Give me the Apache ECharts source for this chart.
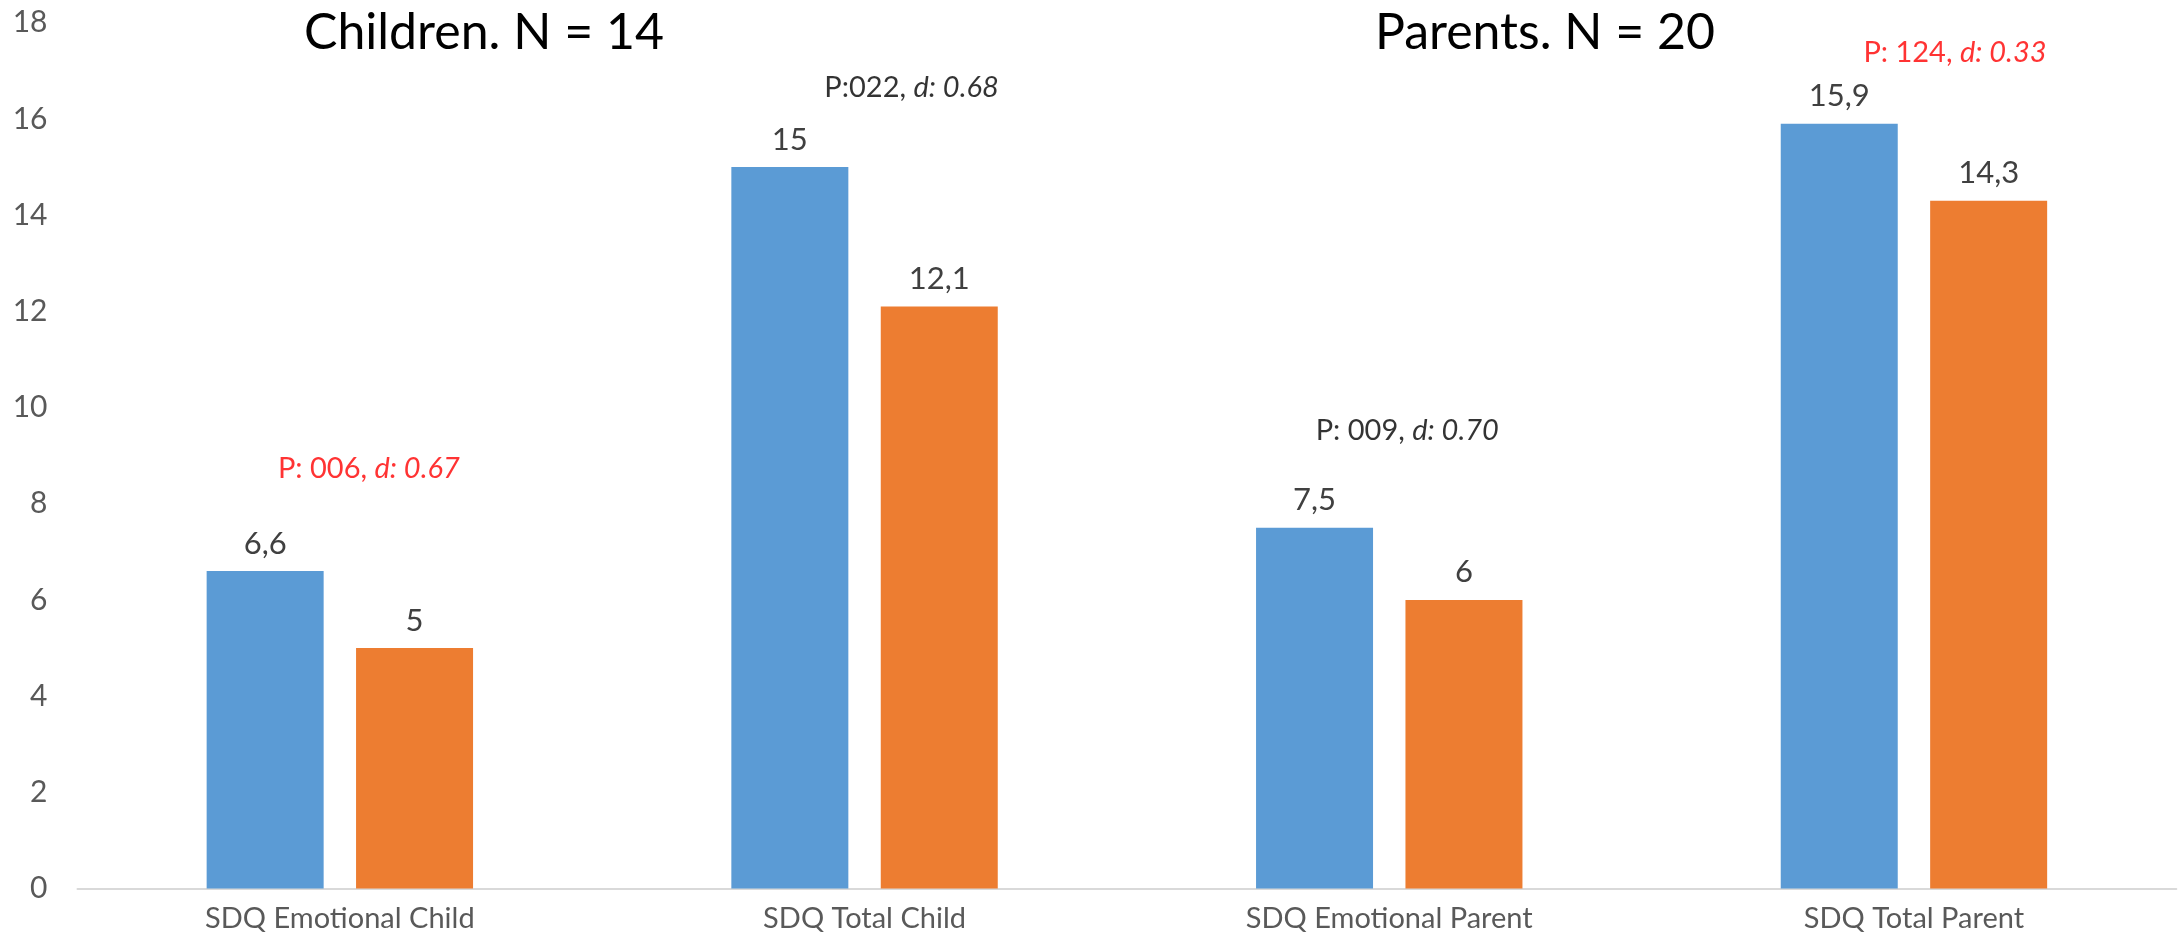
<!DOCTYPE html>
<html>
<head>
<meta charset="utf-8">
<script src="https://cdn.jsdelivr.net/npm/echarts@6/dist/echarts.min.js"></script>
<style>
  html, body { margin: 0; padding: 0; background: #fff; }
  #chart { width: 2178px; height: 946px; }
</style>
</head>
<body>
<div id="chart"></div>
<script>
// SDQ scores, two measurement points per scale
const categories = ['SDQ Emotional Child', 'SDQ Total Child', 'SDQ Emotional Parent', 'SDQ Total Parent'];
const firstValues = [6.6, 15, 7.5, 15.9];
const secondValues = [5, 12.1, 6, 14.3];
const yTicks = [0, 2, 4, 6, 8, 10, 12, 14, 16, 18];

// Significance notes above each pair: p value, effect size, height on the y scale
const notePValues = ['P: 006, ', 'P:022, ', 'P: 009, ', 'P: 124, '];
const noteEffects = ['d: 0.67', 'd: 0.68', 'd: 0.70', 'd: 0.33'];
const noteHeights = [8.72, 16.66, 9.51, 17.37];
const noteColors = ['#FF0000', '#000000', '#000000', '#FF0000'];
const noteShift = [29, 47, 18, 41];

const groupTitles = ['Children. N = 14', 'Parents. N = 20'];

const FONT = 'Lato, "Open Sans", sans-serif';
const comma = v => String(v).replace('.', ',');

const chart = echarts.init(document.getElementById('chart'), null, { renderer: 'canvas' });

const noteData = categories.map((c, i) => ({
  value: [c, noteHeights[i]],
  label: {
    offset: [noteShift[i], 0],
    formatter: '{p|' + notePValues[i] + '}{d|' + noteEffects[i] + '}',
    rich: {
      p: { color: noteColors[i], fontSize: 29, fontFamily: FONT },
      d: { color: noteColors[i], fontSize: 29, fontFamily: FONT, fontStyle: 'italic' }
    }
  }
}));

chart.setOption({
  backgroundColor: '#ffffff',
  animation: false,
  grid: { left: 77.5, right: 1.7, top: 22.7, bottom: 57.5, containLabel: false, outerBoundsMode: 'none' },
  graphic: [
    { type: 'text', x: 484, y: 33, style: { text: groupTitles[0], font: '50px ' + FONT, fill: '#000', align: 'center', verticalAlign: 'middle' } },
    { type: 'text', x: 1545, y: 33, style: { text: groupTitles[1], font: '50px ' + FONT, fill: '#000', align: 'center', verticalAlign: 'middle' } }
  ],
  xAxis: {
    type: 'category',
    data: categories,
    axisLine: { show: true, lineStyle: { color: '#D9D9D9', width: 2 } },
    axisTick: { show: false },
    axisLabel: { color: '#595959', fontSize: 29, fontFamily: FONT, margin: 16, interval: 0 },
    splitLine: { show: false }
  },
  yAxis: {
    type: 'value',
    min: yTicks[0],
    max: yTicks[yTicks.length - 1],
    interval: yTicks[1] - yTicks[0],
    axisLine: { show: false },
    axisTick: { show: false },
    splitLine: { show: false },
    axisLabel: { color: '#595959', fontSize: 30, fontFamily: FONT, margin: 30 }
  },
  series: [
    {
      type: 'bar',
      data: firstValues,
      barWidth: 117,
      barGap: '27.7%',
      itemStyle: { color: '#5B9BD5' },
      label: { show: true, position: 'top', distance: 12, color: '#404040', fontSize: 31, fontFamily: FONT, formatter: p => comma(p.value) }
    },
    {
      type: 'bar',
      data: secondValues,
      barWidth: 117,
      itemStyle: { color: '#ED7D31' },
      label: { show: true, position: 'top', distance: 12, color: '#404040', fontSize: 31, fontFamily: FONT, formatter: p => comma(p.value) }
    },
    {
      type: 'scatter',
      data: noteData,
      symbolSize: 0,
      silent: true,
      label: { show: true, position: 'inside' }
    }
  ]
});
</script>
</body>
</html>
